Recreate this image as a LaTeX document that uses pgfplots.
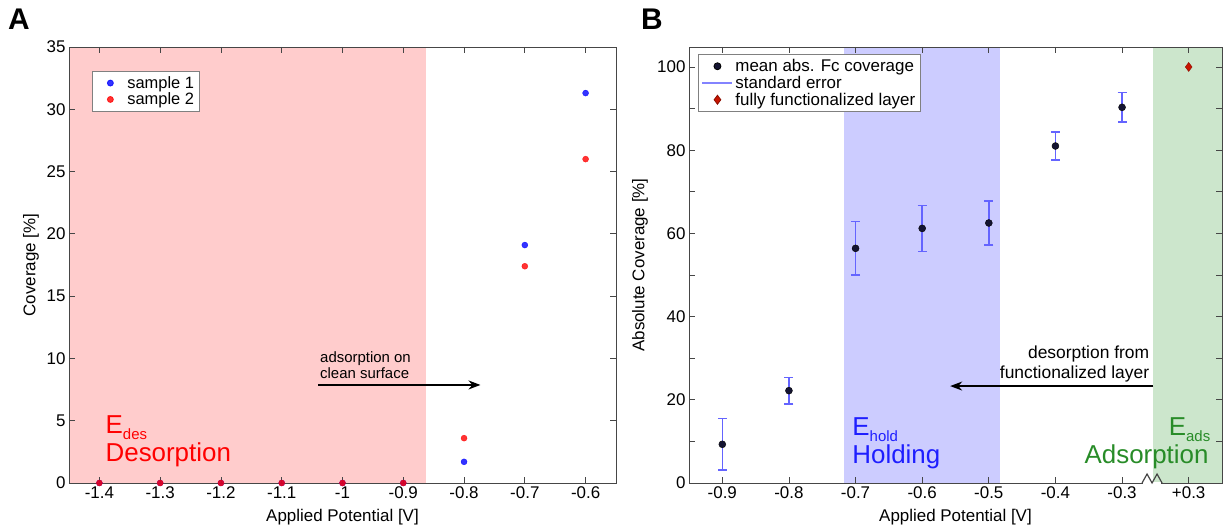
\documentclass[border=0pt]{standalone}
\usepackage{fontspec}
\setmainfont{Liberation Sans}
\usepackage{pgfplots}
\pgfplotsset{compat=1.18}
\usetikzlibrary{arrows.meta}
\definecolor{pinkfill}{RGB}{255,204,204}
\definecolor{bluefill}{RGB}{204,204,255}
\definecolor{greenfill}{RGB}{204,230,204}
\definecolor{sblue}{RGB}{0,0,255}
\definecolor{sred}{RGB}{255,0,0}
\definecolor{txtblue}{RGB}{30,30,255}
\definecolor{txtgreen}{RGB}{40,140,40}
\definecolor{errblue}{RGB}{100,100,255}
\definecolor{meanmark}{RGB}{20,20,50}
\definecolor{diamred}{RGB}{200,20,0}
\definecolor{axgray}{RGB}{70,70,70}
\newcommand{\tkf}{\fontsize{17}{19}\selectfont}
\newcommand{\lgf}{\fontsize{16.5}{17}\selectfont}
\newcommand{\lgbf}{\fontsize{17}{17.5}\selectfont}
\newcommand{\arf}{\fontsize{15}{16}\selectfont}
\newcommand{\arbf}{\fontsize{17.5}{18}\selectfont}
\newcommand{\bigf}{\fontsize{26}{28}\selectfont}
\newcommand{\subf}{\fontsize{15}{16}\selectfont}
\pgfplotsset{
  common/.style={
    scale only axis, height=436bp,
    axis on top,
    tick align=inside, tick pos=both,
    major tick length=6bp,
    axis line style={axgray, line width=0.8bp},
    every tick/.style={axgray, line width=0.8bp},
    tick label style={font=\tkf},
    label style={font=\tkf},
    xlabel style={at={(axis description cs:0.5,0)}, anchor=center, yshift=-34bp},
    legend style={font=\lgf, draw=gray, fill=white, line width=0.8bp, row sep=-1bp, inner sep=3bp},
    legend cell align=left,
  },
  markleg/.style={legend image code/.code={\path[draw=none,fill=none] (0bp,-3bp) rectangle (#1,3bp);
      \draw[##1,only marks] plot coordinates {(#1/2,0bp)};}},
  lineleg/.style={legend image code/.code={\path[draw=none,fill=none] (0bp,-3bp) rectangle (#1,3bp);
      \draw[##1] (1bp,0bp) -- (#1-1bp,0bp);}},
}
\begin{document}
\begin{tikzpicture}
\useasboundingbox (-69bp,-44bp) rectangle (1156bp,483bp);
% ---------------- Panel A
\begin{axis}[common,
  at={(0,0)}, anchor=south west,
  width=547bp,
  xmin=-1.45, xmax=-0.55, ymin=0, ymax=35,
  xtick={-1.4,-1.3,-1.2,-1.1,-1,-0.9,-0.8,-0.7,-0.6},
  xticklabels={-1.4,-1.3,-1.2,-1.1,-1,-0.9,-0.8,-0.7,-0.6},
  ytick={0,5,10,15,20,25,30,35},
  yticklabels={0,5,10,15,20,25,30,35},
  xlabel={Applied Potential [V]},
  ylabel={Coverage [\%]},
  ylabel style={at={(axis description cs:-0.0695,0.5)}, anchor=center},
  legend style={at={(0.042,0.945)}, anchor=north west},
]
\fill[pinkfill] (axis cs:-1.45,0) rectangle (axis cs:-0.862,35);
\addplot[only marks, color=sblue, opacity=0.8, mark=*, mark size=3bp, markleg=30bp]
  coordinates {(-1.4,0) (-1.3,0) (-1.2,0) (-1.1,0) (-1,0) (-0.9,0) (-0.8,1.7) (-0.7,19.1) (-0.6,31.3)};
\addlegendentry{sample 1}
\addplot[only marks, color=sred, opacity=0.8, mark=*, mark size=3bp, markleg=30bp]
  coordinates {(-1.4,0) (-1.3,0) (-1.2,0) (-1.1,0) (-1,0) (-0.9,0) (-0.8,3.6) (-0.7,17.4) (-0.6,26.0)};
\addlegendentry{sample 2}
\draw[-{Stealth[length=12bp,width=9bp]}, line width=1.5bp] (axis cs:-1.04,7.87) -- (axis cs:-0.773,7.87);
\node[anchor=base west, font=\arf, inner sep=0] at (axis cs:-1.037,9.71) {adsorption on};
\node[anchor=base west, font=\arf, inner sep=0] at (axis cs:-1.037,8.35) {clean surface};
\node[anchor=base west, font=\bigf, text=sred, inner sep=0] at (axis cs:-1.39,4.01) {E\raisebox{-0.25em}{\subf des}};
\node[anchor=base west, font=\bigf, text=sred, inner sep=0] at (axis cs:-1.39,1.69) {Desorption};
\end{axis}
\node[anchor=base west, font=\fontsize{30}{32}\selectfont\bfseries, inner sep=0] at (-61bp,453bp) {A};
% ---------------- Panel B
\begin{axis}[common,
  at={(620bp,0)}, anchor=south west,
  width=533bp,
  xmin=-0.95, xmax=-0.15, ymin=0, ymax=104.8,
  xtick={-0.9,-0.8,-0.7,-0.6,-0.5,-0.4,-0.3,-0.2},
  xticklabels={-0.9,-0.8,-0.7,-0.6,-0.5,-0.4,-0.3,+0.3},
  ytick={0,10,20,30,40,50,60,70,80,90,100},
  yticklabels={0,,20,,40,,60,,80,,100},
  xlabel={Applied Potential [V]},
  ylabel={Absolute Coverage [\%]},
  ylabel style={at={(axis description cs:-0.092,0.5)}, anchor=center},
  legend style={at={(0.017,0.984)}, anchor=north west, font=\lgbf},
]
\fill[bluefill] (axis cs:-0.718,0) rectangle (axis cs:-0.483,104.8);
\fill[greenfill] (axis cs:-0.253,0) rectangle (axis cs:-0.15,104.8);
\addplot[only marks, mark=*, mark size=3.5bp, mark options={draw=black, fill=meanmark}, markleg=32bp,
  error bars/.cd, y dir=both, y explicit,
  error bar style={errblue, line width=1.4bp},
  error mark options={errblue, line width=1.4bp, mark size=4.5bp, rotate=90}]
  coordinates {
  (-0.9,9.3) +- (0,6.2)
  (-0.8,22.2) +- (0,3.2)
  (-0.7,56.4) +- (0,6.4)
  (-0.6,61.2) +- (0,5.5)
  (-0.5,62.5) +- (0,5.3)
  (-0.4,81.0) +- (0,3.4)
  (-0.3,90.3) +- (0,3.5)
  };
\addlegendentry{mean abs. Fc coverage}
\addlegendimage{errblue!80, line width=1.3bp, lineleg=32bp}
\addlegendentry{standard error}
\addplot[only marks, mark=diamond*, mark size=4.5bp, mark options={draw=diamred!70!black, fill=diamred}, markleg=32bp]
  coordinates {(-0.2,100)};
\addlegendentry{fully functionalized layer}
\draw[-{Stealth[length=12bp,width=9bp]}, line width=1.5bp] (axis cs:-0.253,23.3) -- (axis cs:-0.558,23.3);
\node[anchor=base east, font=\arbf, inner sep=0] at (axis cs:-0.259,30.0) {desorption from};
\node[anchor=base east, font=\arbf, inner sep=0] at (axis cs:-0.259,25.2) {functionalized layer};
\node[anchor=base west, font=\bigf, text=txtblue, inner sep=0] at (axis cs:-0.705,11.5) {E\raisebox{-0.25em}{\subf hold}};
\node[anchor=base west, font=\bigf, text=txtblue, inner sep=0] at (axis cs:-0.705,4.8) {Holding};
\node[anchor=base west, font=\bigf, text=txtgreen, inner sep=0] at (axis cs:-0.230,11.5) {E\raisebox{-0.25em}{\subf ads}};
\node[anchor=base east, font=\bigf, text=txtgreen, inner sep=0] at (axis cs:-0.170,4.8) {Adsorption};
\coordinate (brk) at (axis cs:-0.255,0);
\end{axis}
\fill[white] ([xshift=-9bp,yshift=-1bp]brk) rectangle ([xshift=9bp,yshift=1bp]brk);
\draw[axgray, line width=1.2bp] ([xshift=-10bp]brk) -- ([xshift=-5bp,yshift=9bp]brk) -- ([xshift=0bp]brk) -- ([xshift=5bp,yshift=9bp]brk) -- ([xshift=10bp]brk);
\node[anchor=base west, font=\fontsize{30}{32}\selectfont\bfseries, inner sep=0] at (572bp,453bp) {B};
\end{tikzpicture}
\end{document}
